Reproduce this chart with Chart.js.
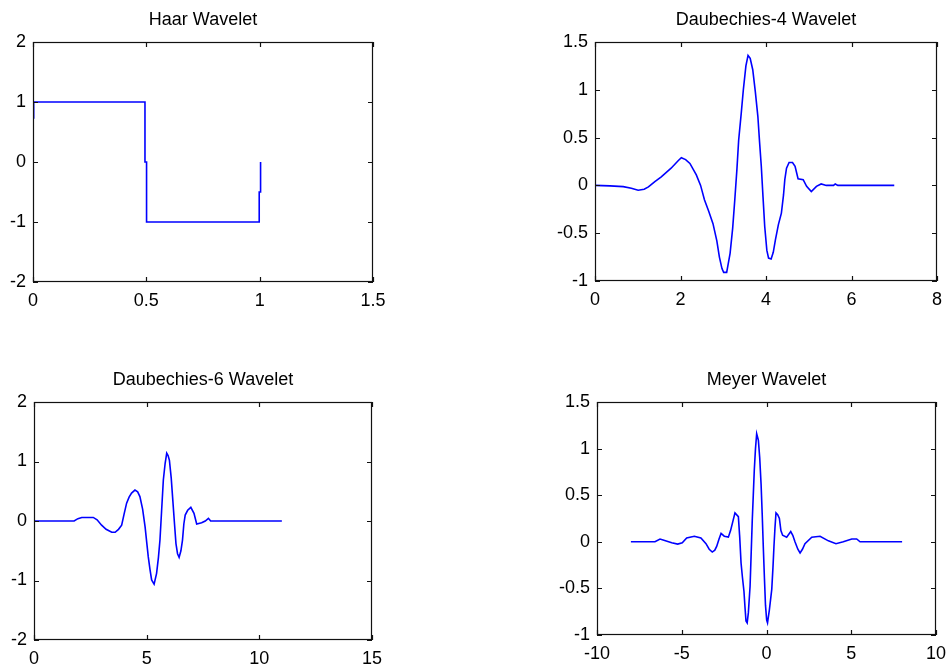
<!DOCTYPE html>
<html>
<head>
<meta charset="utf-8">
<script src="https://cdn.jsdelivr.net/npm/chart.js@4.4.1/dist/chart.umd.min.js"></script>
<style>
    html, body { margin: 0; padding: 0; background: #fff; overflow: hidden; }
    body { width: 947px; height: 666px; position: relative; }
    canvas { position: absolute; }
</style>
</head>
<body>
<canvas id="canvasHaar"></canvas>
<canvas id="canvasDb4"></canvas>
<canvas id="canvasDb6"></canvas>
<canvas id="canvasMeyer"></canvas>
<script>
// values
const haarX = [0.003, 0.003, 0.494, 0.494, 0.501, 0.501, 0.998, 0.998, 1.004, 1.004]
const haarY = [0.72, 1, 1, 0, 0, -1, -1, -0.5, -0.5, 0]
const haarXTicks = [0, 0.5, 1, 1.5]
const haarYTicks = [-2, -1, 0, 1, 2]

const db4X = [0, 0.35, 0.66, 0.85, 1.01, 1.15, 1.25, 1.4, 1.55, 1.78, 1.95, 2.02, 2.12, 2.22, 2.37, 2.47,
    2.56, 2.66, 2.76, 2.85, 2.91, 2.97, 3.01, 3.08, 3.16, 3.22, 3.27, 3.32, 3.36, 3.42, 3.47, 3.53,
    3.58, 3.63, 3.69, 3.75, 3.81, 3.85, 3.89, 3.93, 3.97, 4.02, 4.06, 4.12, 4.17, 4.22, 4.29, 4.36,
    4.41, 4.44, 4.48, 4.54, 4.62, 4.68, 4.75, 4.87, 4.95, 5.06, 5.18, 5.29, 5.41, 5.58, 5.62, 5.68, 7]
const db4Y = [0, -0.005, -0.013, -0.03, -0.05, -0.04, -0.015, 0.04, 0.09, 0.18, 0.26, 0.29, 0.27, 0.23, 0.11, 0,
    -0.15, -0.27, -0.4, -0.58, -0.75, -0.87, -0.91, -0.91, -0.71, -0.45, -0.15, 0.17, 0.47, 0.75, 1, 1.25,
    1.36, 1.33, 1.21, 0.98, 0.72, 0.45, 0.2, -0.12, -0.43, -0.68, -0.76, -0.77, -0.7, -0.57, -0.41, -0.29,
    -0.1, 0.06, 0.18, 0.24, 0.24, 0.2, 0.07, 0.06, -0.01, -0.065, -0.01, 0.015, 0, 0, 0.015, 0, 0]
const db4XTicks = [0, 2, 4, 6, 8]
const db4YTicks = [-1, -0.5, 0, 0.5, 1, 1.5]

const db6X = [0, 1.78, 1.95, 2.12, 2.63, 2.8, 3, 3.2, 3.45, 3.6, 3.75, 3.89, 4, 4.11, 4.22, 4.33, 4.48,
    4.6, 4.7, 4.82, 4.93, 5, 5.07, 5.15, 5.22, 5.33, 5.44, 5.52, 5.59, 5.66, 5.74, 5.82, 5.89, 5.95,
    6.01, 6.09, 6.16, 6.23, 6.3, 6.37, 6.44, 6.52, 6.59, 6.65, 6.71, 6.82, 6.96, 7.1, 7.22, 7.44, 7.6,
    7.74, 7.84, 11]
const db6Y = [0, 0, 0.04, 0.06, 0.06, 0.02, -0.07, -0.14, -0.19, -0.19, -0.14, -0.07, 0.12, 0.3, 0.4, 0.47, 0.52,
    0.49, 0.41, 0.2, -0.1, -0.35, -0.6, -0.82, -0.99, -1.06, -0.88, -0.62, -0.32, 0.15, 0.69, 0.97, 1.14, 1.1,
    1.02, 0.72, 0.35, -0.02, -0.38, -0.55, -0.61, -0.5, -0.32, -0.05, 0.1, 0.18, 0.23, 0.13, -0.05, -0.03, 0,
    0.045, 0, 0]
const db6XTicks = [0, 5, 10, 15]
const db6YTicks = [-2, -1, 0, 1, 2]

const meyerX = [-8, -6.58, -6.28, -6.1, -5.59, -5.24, -4.97, -4.71, -4.26, -3.87, -3.57, -3.38, -3.2, -3.05,
    -2.94, -2.8, -2.68, -2.49, -2.25, -2.12, -2.01, -1.86, -1.66, -1.58, -1.5, -1.42, -1.33, -1.27, -1.21,
    -1.14, -1.07, -0.97, -0.9, -0.84, -0.78, -0.72, -0.65, -0.58, -0.48, -0.4, -0.32, -0.25, -0.19, -0.12,
    -0.06, 0.01, 0.06, 0.17, 0.31, 0.38, 0.44, 0.5, 0.56, 0.66, 0.76, 0.85, 0.95, 1.19, 1.43, 1.55, 1.68,
    1.85, 1.98, 2.12, 2.27, 2.67, 3.16, 3.65, 4.1, 4.53, 5.03, 5.32, 5.52, 8]
const meyerY = [0, 0, 0.03, 0.02, -0.01, -0.025, -0.01, 0.04, 0.06, 0.04, -0.02, -0.08, -0.11, -0.09,
    -0.05, 0.03, 0.09, 0.06, 0.05, 0.12, 0.2, 0.31, 0.27, 0.05, -0.23, -0.38, -0.53, -0.7, -0.85,
    -0.87, -0.76, -0.48, -0.1, 0.23, 0.5, 0.77, 1, 1.16, 1.09, 0.9, 0.62, 0.28, -0.05, -0.4,
    -0.68, -0.84, -0.87, -0.73, -0.51, -0.28, -0.05, 0.15, 0.31, 0.29, 0.25, 0.12, 0.07, 0.05, 0.11, 0.07, 0,
    -0.08, -0.12, -0.08, -0.02, 0.05, 0.06, 0.01, -0.02, 0, 0.03, 0.03, 0, 0]
const meyerXTicks = [-10, -5, 0, 5, 10]
const meyerYTicks = [-1, -0.5, 0, 0.5, 1, 1.5]

const fontFamily = "'Liberation Sans', Arial, sans-serif"
const yAxisWidth = 45
const titleHeight = 42
const xAxisHeight = 30

//#region plugins
// MATLAB style box with ticks pointing inwards on all four sides
const matlabBox = {
    id: "matlabBox",
    afterDraw: chart => {
        let { ctx, chartArea: a, scales } = chart
        let len = 5
        ctx.save()
        ctx.strokeStyle = "#111"
        ctx.lineWidth = 1.2
        ctx.strokeRect(a.left + 0.5, a.top + 0.5, a.right - a.left - 1, a.bottom - a.top - 1)
        ctx.beginPath()
        scales.x.ticks.forEach(t => {
            let px = Math.round(scales.x.getPixelForValue(t.value)) + 0.5
            ctx.moveTo(px, a.bottom)
            ctx.lineTo(px, a.bottom - len)
            ctx.moveTo(px, a.top)
            ctx.lineTo(px, a.top + len)
        })
        scales.y.ticks.forEach(t => {
            let py = Math.round(scales.y.getPixelForValue(t.value)) + 0.5
            ctx.moveTo(a.left, py)
            ctx.lineTo(a.left + len, py)
            ctx.moveTo(a.right, py)
            ctx.lineTo(a.right - len, py)
        })
        ctx.stroke()
        ctx.restore()
    }
}
//#endregion

//#region ChartJs
CreateChart = (canvasId, box, title, xs, ys, xTicks, yTicks) => {
    let canvas = document.getElementById(canvasId)
    let plotW = box.right - box.left
    let plotH = box.bottom - box.top
    canvas.width = plotW + yAxisWidth + 25
    canvas.height = plotH + titleHeight + xAxisHeight + 10
    canvas.style.left = (box.left - yAxisWidth) + "px"
    canvas.style.top = (box.top - titleHeight) + "px"

    let tickFont = { family: fontFamily, size: 18 }

    new Chart(canvas, {
        type: "line",
        data: {
            datasets: [{
                data: xs.map((x, i) => ({ x, y: ys[i] })),
                borderColor: "#0000ff",
                borderWidth: 1.6,
                pointRadius: 0,
                tension: 0,
                fill: false
            }]
        },
        options: {
            responsive: false,
            animation: false,
            events: [],
            layout: { padding: { left: 0, top: 0, right: 25, bottom: 10 } },
            plugins: {
                legend: { display: false },
                tooltip: { enabled: false },
                title: {
                    display: true,
                    text: title,
                    color: "#000",
                    fullSize: false,
                    font: { family: fontFamily, size: 18, weight: "normal", lineHeight: 1.2 },
                    padding: { top: 9, bottom: titleHeight - 9 - 18 * 1.2 }
                }
            },
            scales: {
                x: {
                    type: "linear",
                    min: xTicks[0],
                    max: xTicks[xTicks.length - 1],
                    afterBuildTicks: scale => { scale.ticks = xTicks.map(value => ({ value })) },
                    afterFit: scale => { scale.height = xAxisHeight },
                    grid: { display: false, drawTicks: false },
                    border: { display: false },
                    ticks: {
                        autoSkip: false,
                        maxRotation: 0,
                        padding: 8,
                        color: "#000",
                        font: tickFont,
                        callback: v => String(v)
                    }
                },
                y: {
                    type: "linear",
                    min: yTicks[0],
                    max: yTicks[yTicks.length - 1],
                    afterBuildTicks: scale => { scale.ticks = yTicks.map(value => ({ value })) },
                    afterFit: scale => { scale.width = yAxisWidth },
                    grid: { display: false, drawTicks: false },
                    border: { display: false },
                    ticks: {
                        autoSkip: false,
                        padding: 7,
                        color: "#000",
                        font: tickFont,
                        callback: v => String(v)
                    }
                }
            }
        },
        plugins: [matlabBox]
    })
}

CreateChart("canvasHaar", { left: 33, top: 42, right: 373, bottom: 282 }, "Haar Wavelet",
    haarX, haarY, haarXTicks, haarYTicks)
CreateChart("canvasDb4", { left: 595, top: 42, right: 937, bottom: 281 }, "Daubechies-4 Wavelet",
    db4X, db4Y, db4XTicks, db4YTicks)
CreateChart("canvasDb6", { left: 34, top: 402, right: 372, bottom: 640 }, "Daubechies-6 Wavelet",
    db6X, db6Y, db6XTicks, db6YTicks)
CreateChart("canvasMeyer", { left: 597, top: 402, right: 936, bottom: 635 }, "Meyer Wavelet",
    meyerX, meyerY, meyerXTicks, meyerYTicks)
//#endregion
</script>
</body>
</html>
